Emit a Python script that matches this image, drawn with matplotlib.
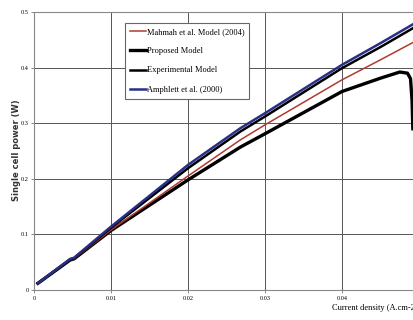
import numpy as np
import matplotlib
matplotlib.use('Agg')
import matplotlib.pyplot as plt

# values (current density in A/cm2, power in W)
x_models = [0.0005, 0.0047, 0.0052, 0.01, 0.02, 0.0268, 0.03, 0.04, 0.045, 0.0496]
p_amphlett = [0.012, 0.056, 0.058, 0.114, 0.225, 0.291, 0.318, 0.405, 0.444, 0.481]
p_experimental = [0.012, 0.055, 0.057, 0.112, 0.219, 0.285, 0.312, 0.399, 0.437, 0.474]
p_mahmah = [0.012, 0.054, 0.056, 0.108, 0.205, 0.270, 0.297, 0.378, 0.414, 0.448]

x_proposed = [0.0005, 0.0047, 0.0052, 0.01, 0.02, 0.0268, 0.03, 0.04, 0.045, 0.0475,
              0.0485, 0.0489, 0.0491, 0.0492]
p_proposed = [0.012, 0.054, 0.056, 0.107, 0.198, 0.257, 0.281, 0.357, 0.381, 0.392,
              0.390, 0.380, 0.340, 0.290]

xticks = [0, 0.01, 0.02, 0.03, 0.04]
xtick_labels = ['0', '0.01', '0.02', '0.03', '0.04']
yticks = [0, 0.1, 0.2, 0.3, 0.4, 0.5]
ytick_labels = ['0', '0.1', '0.2', '0.3', '0.4', '0.5']

fig = plt.figure(figsize=(4.14, 3.2), dpi=100)
ax = fig.add_axes([34/414, 30/320, 385/414, 278/320])

ax.plot(x_proposed, p_proposed, color='black', lw=2.4, label='Proposed Model', zorder=3)
ax.plot(x_models, p_mahmah, color='#b03a30', lw=1.1, label='Mahmah et al. Model (2004)', zorder=4)
ax.plot(x_models, p_experimental, color='black', lw=1.8, label='Experimental Model', zorder=5)
ax.plot(x_models, p_amphlett, color='#2a2f86', lw=1.8, label='Amphlett et al. (2000)', zorder=6)

ax.set_xlim(0, 0.05)
ax.set_ylim(0, 0.5)
ax.set_xticks(xticks)
ax.set_xticklabels(xtick_labels, family='Liberation Serif', fontsize=4.5)
ax.set_yticks(yticks)
ax.set_yticklabels(ytick_labels, family='Liberation Serif', fontsize=4.5)
ax.tick_params(length=2, width=0.6, color='#777777', pad=2)
ax.grid(True, color='#555555', lw=0.7)
for s in ax.spines.values():
    s.set_color('#888888')
    s.set_linewidth(0.8)

fig.text(17/414, 1 - 150/320, 'Single cell power (W)', fontsize=6, fontweight='bold',
         color='#333333', rotation=90, ha='center', va='center')
fig.text(332/414, 1 - 310/320, 'Current density (A.cm-2)', family='Liberation Serif',
         fontsize=6.0, ha='left', va='baseline')

handles, labels = ax.get_legend_handles_labels()
order = [1, 0, 2, 3]
leg = ax.legend([handles[i] for i in order], [labels[i] for i in order],
                loc='upper left', bbox_to_anchor=((125 - 34)/385, 1 - 11/278),
                prop={'family': 'Liberation Serif', 'size': 6.0},
                handlelength=1.9, handletextpad=0.1, labelspacing=1.35,
                borderpad=0.6, borderaxespad=0, fancybox=False, framealpha=1,
                edgecolor='#666666')
leg.get_frame().set_linewidth(0.8)

fig.savefig('out.png', dpi=100)
